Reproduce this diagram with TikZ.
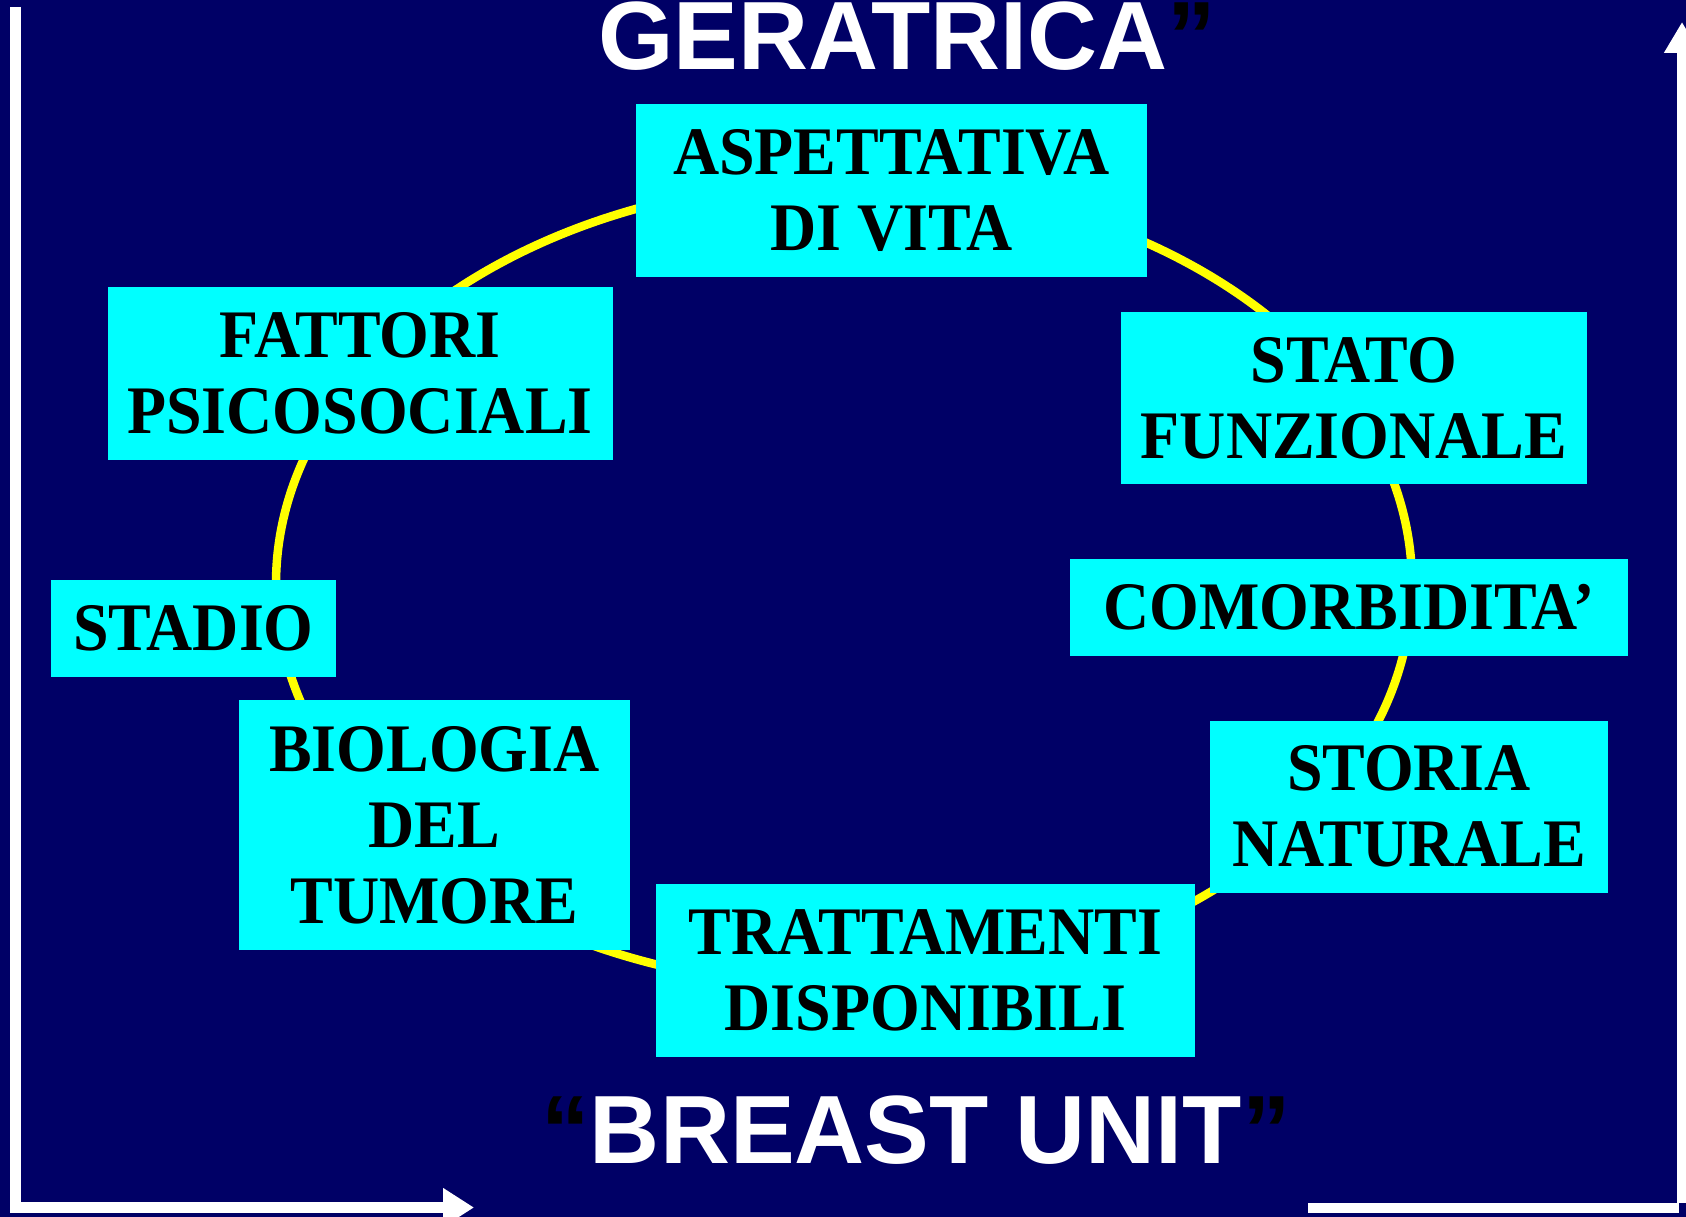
\documentclass[tikz,border=0pt]{standalone}
\usepackage{fontspec}
\setmainfont{Liberation Serif}
\newfontfamily\boxfont{Liberation Serif}[FakeStretch=0.94]
\newfontfamily\titlefont{Liberation Sans}
\usetikzlibrary{arrows.meta}
\definecolor{navybg}{RGB}{0,0,102}
\definecolor{boxcyan}{RGB}{0,255,255}
\definecolor{ringyellow}{RGB}{255,255,0}
\begin{document}
\begin{tikzpicture}[x=1pt,y=-1pt,
  factor/.style={fill=boxcyan, draw=none, inner sep=0pt, align=center, text=black,
    font=\boxfont\bfseries\fontsize{68}{76}\selectfont},
  title/.style={text=white, inner sep=0pt,
    font=\titlefont\bfseries\fontsize{97}{100}\selectfont},
  frame/.style={white, line width=11pt},
  ring/.style={ringyellow, line width=8.5pt}]
\useasboundingbox (0,0) rectangle (1686,1217);
\clip (0,0) rectangle (1686,1217);
\fill[navybg] (0,0) rectangle (1686,1217);

% frame arrows
\coordinate (lt) at (15.5,7);
\coordinate (lc) at (15.5,1207.5);
\coordinate (lr) at (474,1207.5);
\draw[frame, line join=miter, -{Triangle[length=31pt,width=37pt]}] (lt) -- (lc) -- (lr);
\coordinate (rb) at (1682,1203);
\coordinate (rt) at (1682,22);
\draw[frame, -{Triangle[length=31pt,width=34pt]}] (rb) -- (rt);
\coordinate (bl) at (1308,1208);
\coordinate (br) at (1679,1208);
\draw[white, line width=10pt] (bl) -- (br);

% ring
\draw[ring] (844,584) ellipse [x radius=568, y radius=403];

% titles
\node[title, anchor=base] (toptitle) at (907,70) {GERATRICA\textcolor{black}{”}};
\node[title, anchor=base] (bottitle) at (916,1163) {\textcolor{black}{“}BREAST UNIT\textcolor{black}{”}};

% factor boxes
\node[factor, minimum width=511pt, minimum height=173pt] (asp) at (891.5,190.5) {ASPETTATIVA\\DI VITA};
\node[factor, minimum width=505pt, minimum height=173pt] (fat) at (360,373.5) {FATTORI\\PSICOSOCIALI};
\node[factor, minimum width=466pt, minimum height=172pt] (sta) at (1354,398) {STATO\\FUNZIONALE};
\node[factor, minimum width=558pt, minimum height=97pt] (com) at (1349,607.5) {COMORBIDITA’};
\node[factor, minimum width=285pt, minimum height=97pt] (sdi) at (193.5,628.5) {STADIO};
\node[factor, minimum width=391pt, minimum height=250pt] (bio) at (434.5,825) {BIOLOGIA\\DEL\\TUMORE};
\node[factor, minimum width=398pt, minimum height=172pt] (sto) at (1409,806.5) {STORIA\\NATURALE};
\node[factor, minimum width=539pt, minimum height=173pt] (tra) at (925.5,970.5) {TRATTAMENTI\\DISPONIBILI};
\end{tikzpicture}
\end{document}
